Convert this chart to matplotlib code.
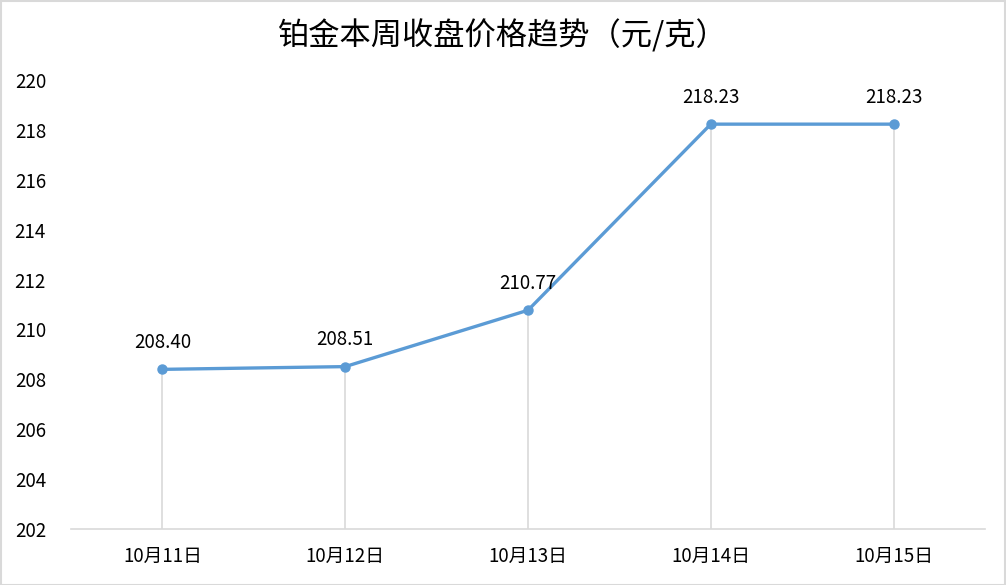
import matplotlib
matplotlib.use("Agg")
import matplotlib.pyplot as plt
from matplotlib.patches import Rectangle

plt.rcParams['font.family'] = ['Noto Sans CJK SC', 'DejaVu Sans']

categories = ["10月11日", "10月12日", "10月13日", "10月14日", "10月15日"]
prices = [208.40, 208.51, 210.77, 218.23, 218.23]
yticks = [202, 204, 206, 208, 210, 212, 214, 216, 218, 220]
title = "铂金本周收盘价格趋势（元/克）"

fig = plt.figure(figsize=(10.06, 5.85), dpi=100)
ax = fig.add_axes([71/1006, 1 - 529/585, 914/1006, 449/585])

x = list(range(len(categories)))
ymin, ymax = yticks[0], yticks[-1]
ax.vlines(x, ymin, prices, colors="#D9D9D9", linewidth=1.2, zorder=1)
ax.plot(x, prices, color="#5B9BD5", linewidth=2.4, marker="o", markersize=6.5, zorder=3)

for xi, p in zip(x, prices):
    ax.annotate(f"{p:.2f}", (xi, p), xytext=(0, 19.5), textcoords="offset points",
                ha="center", va="center", fontsize=13.5, color="#000000")

ax.set_xlim(-0.5, len(categories) - 0.5)
ax.set_ylim(ymin, ymax)
ax.set_yticks(yticks)
ax.set_yticklabels([str(t) for t in yticks], fontsize=13.5)
ax.set_xticks(x)
ax.set_xticklabels(categories, fontsize=13.5)
ax.tick_params(axis='both', length=0)
ax.tick_params(axis='y', pad=18)
ax.tick_params(axis='x', pad=12)
for s in ["top", "right", "left"]:
    ax.spines[s].set_visible(False)
ax.spines["bottom"].set_color("#D9D9D9")
ax.spines["bottom"].set_linewidth(1.2)

fig.text(0.5, 1 - 36/585, title, ha="center", va="center", fontsize=22.5, color="#000000")

fig.patches.append(Rectangle((0.5/1006, 0.5/585), 1 - 1.5/1006, 1 - 1.5/585, transform=fig.transFigure,
                             fill=False, edgecolor="#D9D9D9", linewidth=1.5))

fig.savefig("out.png", dpi=100)
